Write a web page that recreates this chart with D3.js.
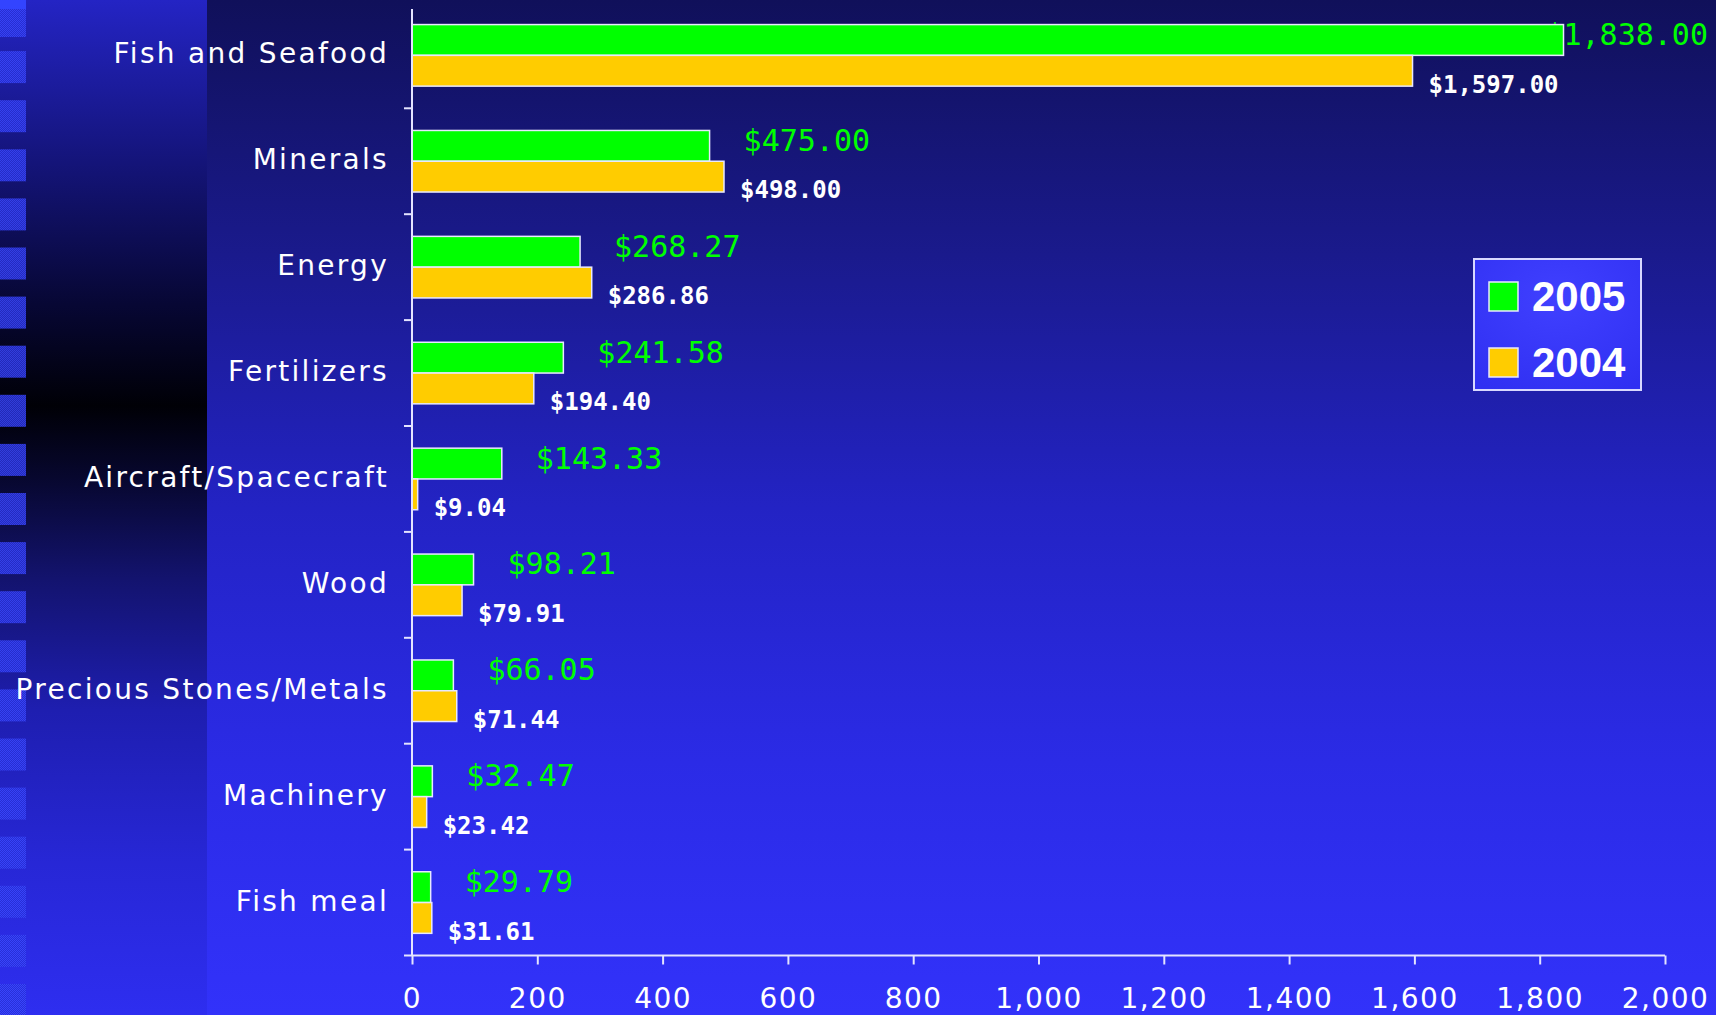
<!DOCTYPE html>
<html>
<head>
<meta charset="utf-8">
<script src="https://cdn.jsdelivr.net/npm/d3@7/dist/d3.min.js"></script>
<style>
  html, body { margin: 0; padding: 0; background: #1a1a90; }
  svg { display: block; }
</style>
</head>
<body>
<svg id="chart" width="1716" height="1015"></svg>
<script>
// ---- data ----
const categories = ["Fish and Seafood", "Minerals", "Energy", "Fertilizers", "Aircraft/Spacecraft", "Wood", "Precious Stones/Metals", "Machinery", "Fish meal"];
const values2005 = [1838.00, 475.00, 268.27, 241.58, 143.33, 98.21, 66.05, 32.47, 29.79];
const values2004 = [1597.00, 498.00, 286.86, 194.40, 9.04, 79.91, 71.44, 23.42, 31.61];
const seriesNames = ["2005", "2004"];
const xTickValues = [0, 200, 400, 600, 800, 1000, 1200, 1400, 1600, 1800, 2000];

// ---- layout ----
const W = 1716, H = 1015;
const svg = d3.select("#chart");
const defs = svg.append("defs");

const mainGrad = defs.append("linearGradient").attr("id", "mainBg").attr("x1", 0).attr("y1", 0).attr("x2", 0).attr("y2", 1);
[[0, "#10105a"], [0.25, "#1a1a8c"], [0.5, "#2323c4"], [0.75, "#2b2be6"], [1, "#3232fa"]]
  .forEach(([o, c]) => mainGrad.append("stop").attr("offset", o).attr("stop-color", c));

const leftGrad = defs.append("linearGradient").attr("id", "leftBg").attr("x1", 0).attr("y1", 0).attr("x2", 0).attr("y2", 1);
[[0, "#2424c4"], [0.15, "#15157e"], [0.3, "#070734"], [0.4, "#000006"], [0.47, "#07072e"], [0.57, "#13136e"], [0.7, "#1e1eb0"], [0.85, "#2727d6"], [1, "#2e2ef0"]]
  .forEach(([o, c]) => leftGrad.append("stop").attr("offset", o).attr("stop-color", c));

const legGrad = defs.append("radialGradient").attr("id", "legBg").attr("cx", 0.5).attr("cy", 0.3).attr("r", 0.8);
[[0, "#4040ff"], [1, "#3030f2"]].forEach(([o, c]) => legGrad.append("stop").attr("offset", o).attr("stop-color", c));

// dithered fill for the decorative squares
const pat = defs.append("pattern").attr("id", "dither").attr("patternUnits", "userSpaceOnUse")
  .attr("width", 2).attr("height", 2);
pat.append("rect").attr("x", 0).attr("y", 0).attr("width", 2).attr("height", 2).attr("fill", "#2830d6");
pat.append("rect").attr("x", 0).attr("y", 0).attr("width", 1).attr("height", 1).attr("fill", "#3a48ff");
pat.append("rect").attr("x", 1).attr("y", 1).attr("width", 1).attr("height", 1).attr("fill", "#3a48ff");

// backgrounds
svg.append("rect").attr("x", 0).attr("y", 0).attr("width", W).attr("height", H).attr("fill", "url(#mainBg)");
svg.append("rect").attr("x", 0).attr("y", 0).attr("width", 207).attr("height", H).attr("fill", "url(#leftBg)");
svg.append("rect").attr("x", 0).attr("y", 0).attr("width", 26).attr("height", 9).attr("fill", "#3344ff");
// decorative square column
const deco = svg.append("g");
for (let k = 0; k < 21; k++) {
  deco.append("rect").attr("x", 0).attr("y", Math.max(9, 2 + 49.1 * k)).attr("width", 26)
    .attr("height", k === 0 ? 28 : 32).attr("fill", "url(#dither)").attr("opacity", 0.85);
}

// scales
const x = d3.scaleLinear().domain([0, 2000]).range([412, 1665]);
const y0 = d3.scaleBand().domain(categories).range([2.4, 955.5]).padding(0);
const y1 = d3.scaleBand().domain(seriesNames).range([0, y0.bandwidth()]).paddingInner(0).paddingOuter(0.72);
const color = d3.scaleOrdinal().domain(seriesNames).range(["#00ff00", "#ffcc00"]);
const fmt = d3.format("$,.2f");

const rows = categories.map((c, i) => ({ cat: c, v2005: values2005[i], v2004: values2004[i] }));

const axisColor = "#e4e4ff";

// category labels
svg.append("g").selectAll("text").data(categories).join("text")
  .attr("x", 389)
  .attr("y", d => y0(d) + y0.bandwidth() / 2 + 8)
  .attr("text-anchor", "end")
  .attr("fill", "#ffffff")
  .attr("font-family", "DejaVu Sans")
  .attr("font-size", 28)
  .attr("letter-spacing", "2.3px")
  .text(d => d);

// value labels (drawn before bars, like the original where the bar covers the overflow)
const labelRight = 1708;
const g2005Labels = svg.append("g");
rows.forEach(r => {
  const cy = y0(r.cat) + y1("2005") + y1.bandwidth() / 2;
  const t = g2005Labels.append("text")
    .attr("y", cy - 6 + 0.365 * 30)
    .attr("fill", "#00ff00")
    .attr("font-family", "DejaVu Sans Mono")
    .attr("font-size", 30)
    .text(fmt(r.v2005));
  const w = t.node().getComputedTextLength();
  t.attr("x", Math.min(x(r.v2005) + 34, labelRight - w));
});
const g2004Labels = svg.append("g");
rows.forEach(r => {
  const cy = y0(r.cat) + y1("2004") + y1.bandwidth() / 2;
  const t = g2004Labels.append("text")
    .attr("y", cy + 13 + 0.365 * 24)
    .attr("fill", "#ffffff")
    .attr("font-family", "DejaVu Sans Mono")
    .attr("font-weight", "bold")
    .attr("font-size", 24)
    .text(fmt(r.v2004));
  const w = t.node().getComputedTextLength();
  t.attr("x", Math.min(x(r.v2004) + 16, labelRight - w));
});

// bars
const barG = svg.append("g");
rows.forEach(r => {
  [["2005", r.v2005], ["2004", r.v2004]].forEach(([s, v]) => {
    barG.append("rect")
      .attr("x", x(0))
      .attr("y", y0(r.cat) + y1(s))
      .attr("width", x(v) - x(0))
      .attr("height", y1.bandwidth())
      .attr("fill", color(s))
      .attr("stroke", "#e8e8ff")
      .attr("stroke-width", 1.5);
  });
});

// y axis line + category boundary ticks
svg.append("line").attr("x1", 412).attr("x2", 412).attr("y1", 9).attr("y2", 955.5)
  .attr("stroke", axisColor).attr("stroke-width", 2);
svg.append("g").selectAll("line").data(categories.slice(1)).join("line")
  .attr("x1", 404).attr("x2", 412)
  .attr("y1", d => y0(d)).attr("y2", d => y0(d))
  .attr("stroke", axisColor).attr("stroke-width", 2);

// x axis
const xAxis = d3.axisBottom(x).tickValues(xTickValues).tickSize(9).tickPadding(22)
  .tickFormat(d3.format(","));
const xg = svg.append("g").attr("transform", "translate(0,955.5)").call(xAxis);
xg.select(".domain").remove();
xg.append("line").attr("x1", 404).attr("x2", x(2000)).attr("y1", 0).attr("y2", 0)
  .attr("stroke", axisColor).attr("stroke-width", 2);
xg.selectAll(".tick line").attr("stroke", axisColor).attr("stroke-width", 2);
xg.selectAll(".tick text")
  .attr("fill", "#ffffff")
  .attr("font-family", "DejaVu Sans")
  .attr("font-size", 28)
  .attr("letter-spacing", "1.5px")
  .attr("dy", "0.35em")
  .attr("y", 43);

// legend
const leg = svg.append("g");
leg.append("rect").attr("x", 1474).attr("y", 259).attr("width", 167).attr("height", 131)
  .attr("fill", "url(#legBg)").attr("stroke", "#d8d8ff").attr("stroke-width", 2);
seriesNames.forEach((s, i) => {
  const yy = 282 + i * 66;
  leg.append("rect").attr("x", 1489).attr("y", yy).attr("width", 29).attr("height", 29)
    .attr("fill", color(s)).attr("stroke", "#e8e8ff").attr("stroke-width", 1.5);
  leg.append("text").attr("x", 1532).attr("y", yy + 29)
    .attr("fill", "#ffffff").attr("font-family", "Liberation Sans").attr("font-weight", "bold")
    .attr("font-size", 42).text(s);
});
</script>
</body>
</html>
